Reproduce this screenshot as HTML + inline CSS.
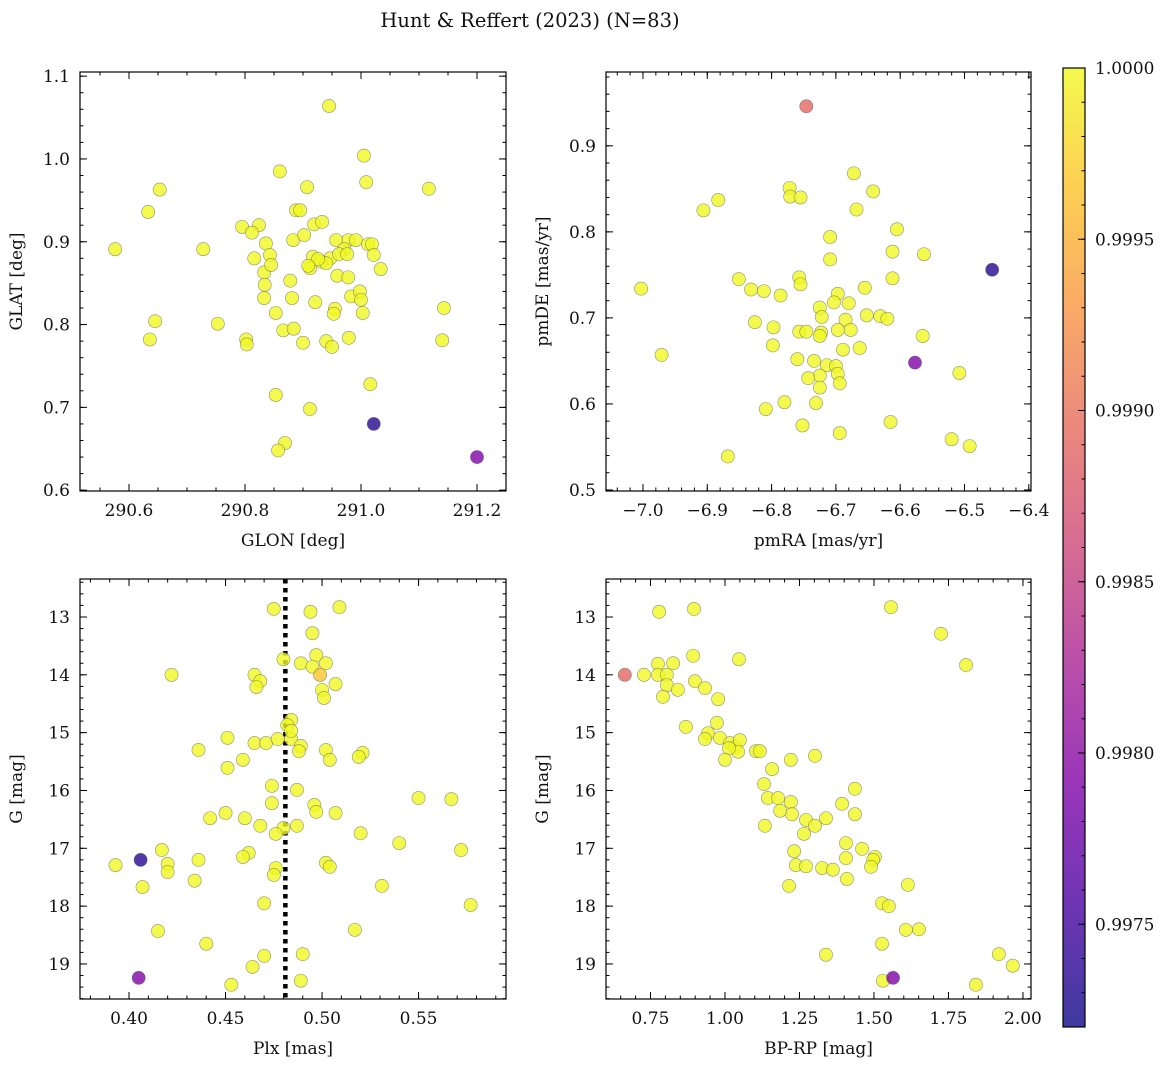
<!DOCTYPE html>
<html><head><meta charset="utf-8"><style>
body{margin:0;background:#fff}
svg text{font-family:"DejaVu Serif","Liberation Serif",serif;fill:#111}
</style></head><body>
<svg id="fig" width="1173" height="1067" viewBox="0 0 1173 1067" xmlns="http://www.w3.org/2000/svg">
<defs>
<linearGradient id="cbg" x1="0" y1="1" x2="0" y2="0">
<stop offset="0" stop-color="#0d0887"/><stop offset="0.13" stop-color="#4c02a1"/><stop offset="0.25" stop-color="#7e03a8"/><stop offset="0.38" stop-color="#a92395"/><stop offset="0.5" stop-color="#cc4778"/><stop offset="0.63" stop-color="#e66c5c"/><stop offset="0.75" stop-color="#f89540"/><stop offset="0.88" stop-color="#fdc527"/><stop offset="1" stop-color="#f0f921"/>
</linearGradient>
</defs>
<text x="530" y="27" font-size="19.5" text-anchor="middle">Hunt &amp; Reffert (2023) (N=83)</text>
</svg>
<script>
// Panel 1: GLON / GLAT
const p1Lon=[290.945,291.005,290.653,291.009,290.633,291.117,290.576,290.728,290.795,290.824,290.812,290.860,290.907,290.888,290.895,290.919,290.933,290.836,290.883,290.816,290.902,290.978,290.957,290.991,291.012,291.019,290.971,290.917,290.947,290.912,290.931,290.940,290.962,290.976,290.926,291.022,291.034,290.843,290.833,290.845,290.878,290.909,290.959,290.978,290.833,290.881,290.921,290.983,290.998,291.000,290.955,291.003,290.953,290.853,290.645,290.753,291.143,290.636,290.802,290.866,290.884,290.900,290.940,290.950,290.979,290.803,291.140,291.016,290.853,290.912,290.869,290.857,290.834,291.022,291.200];
const p1Lat=[1.064,1.004,0.963,0.972,0.936,0.964,0.891,0.891,0.918,0.920,0.911,0.985,0.966,0.938,0.938,0.921,0.924,0.898,0.902,0.880,0.908,0.902,0.902,0.902,0.897,0.897,0.891,0.882,0.880,0.868,0.876,0.874,0.885,0.885,0.879,0.884,0.867,0.884,0.863,0.872,0.853,0.871,0.859,0.857,0.832,0.832,0.827,0.834,0.840,0.830,0.819,0.814,0.813,0.814,0.804,0.801,0.820,0.782,0.782,0.793,0.795,0.778,0.780,0.773,0.784,0.776,0.781,0.728,0.715,0.698,0.657,0.648,0.848,0.680,0.640];
const p1Prob=[1,1,1,1,1,1,1,1,1,1,1,1,1,1,1,1,1,1,1,1,1,1,1,1,1,1,1,1,1,1,1,1,1,1,1,1,1,1,1,1,1,1,1,1,1,1,1,1,1,1,1,1,1,1,1,1,1,1,1,1,1,1,1,1,1,1,1,1,1,1,1,1,1,0.99733,0.9979];
// Panel 2: pmRA / pmDE
const p2Ra=[-7.003,-6.906,-6.883,-6.971,-6.772,-6.771,-6.755,-6.672,-6.642,-6.668,-6.605,-6.709,-6.612,-6.563,-6.709,-6.851,-6.757,-6.755,-6.832,-6.812,-6.786,-6.612,-6.655,-6.697,-6.680,-6.703,-6.725,-6.722,-6.685,-6.652,-6.631,-6.620,-6.826,-6.797,-6.757,-6.746,-6.723,-6.697,-6.677,-6.725,-6.565,-6.798,-6.663,-6.689,-6.760,-6.734,-6.714,-6.700,-6.725,-6.743,-6.697,-6.694,-6.508,-6.809,-6.780,-6.731,-6.725,-6.615,-6.752,-6.694,-6.520,-6.492,-6.868,-6.746,-6.457,-6.577];
const p2De=[0.734,0.825,0.837,0.657,0.851,0.841,0.840,0.868,0.847,0.826,0.803,0.794,0.777,0.774,0.768,0.745,0.747,0.739,0.733,0.731,0.726,0.746,0.735,0.728,0.717,0.718,0.712,0.701,0.698,0.703,0.702,0.699,0.695,0.689,0.684,0.684,0.683,0.686,0.686,0.679,0.679,0.668,0.665,0.663,0.652,0.650,0.645,0.644,0.633,0.630,0.635,0.624,0.636,0.594,0.602,0.601,0.619,0.579,0.575,0.566,0.559,0.551,0.539,0.946,0.756,0.648];
const p2Prob=[1,1,1,1,1,1,1,1,1,1,1,1,1,1,1,1,1,1,1,1,1,1,1,1,1,1,1,1,1,1,1,1,1,1,1,1,1,1,1,1,1,1,1,1,1,1,1,1,1,1,1,1,1,1,1,1,1,1,1,1,1,1,1,0.9989,0.99733,0.9979];
// Panel 3: Plx / G
const p3Plx=[0.475,0.509,0.494,0.495,0.497,0.480,0.489,0.502,0.495,0.422,0.465,0.468,0.466,0.507,0.500,0.501,0.436,0.451,0.465,0.471,0.477,0.484,0.489,0.488,0.502,0.521,0.519,0.504,0.459,0.451,0.484,0.482,0.484,0.474,0.487,0.550,0.567,0.474,0.496,0.497,0.507,0.450,0.442,0.460,0.468,0.480,0.487,0.520,0.476,0.540,0.417,0.462,0.459,0.572,0.420,0.436,0.502,0.504,0.393,0.420,0.476,0.475,0.434,0.407,0.531,0.470,0.577,0.415,0.517,0.440,0.470,0.490,0.464,0.489,0.453,0.499,0.406,0.405];
const p3G=[12.86,12.83,12.91,13.28,13.66,13.73,13.80,13.80,13.86,14.00,14.00,14.11,14.21,14.16,14.26,14.40,15.30,15.09,15.18,15.18,15.11,15.11,15.23,15.32,15.30,15.35,15.42,15.47,15.47,15.61,14.78,14.87,14.97,15.92,15.99,16.13,16.15,16.22,16.25,16.37,16.39,16.39,16.48,16.48,16.61,16.65,16.61,16.74,16.75,16.91,17.03,17.08,17.15,17.03,17.27,17.20,17.25,17.32,17.29,17.41,17.34,17.46,17.56,17.67,17.65,17.95,17.98,18.43,18.41,18.65,18.86,18.83,19.05,19.29,19.36,14.00,17.20,19.24];
const p3Prob=[1,1,1,1,1,1,1,1,1,1,1,1,1,1,1,1,1,1,1,1,1,1,1,1,1,1,1,1,1,1,1,1,1,1,1,1,1,1,1,1,1,1,1,1,1,1,1,1,1,1,1,1,1,1,1,1,1,1,1,1,1,1,1,1,1,1,1,1,1,1,1,1,1,1,1,0.99965,0.99733,0.9979];
// Panel 4: BP-RP / G
const p4Col=[0.779,0.896,1.557,1.725,1.809,0.893,1.047,0.775,0.826,0.728,0.775,0.805,0.899,0.805,0.933,0.842,0.792,0.977,0.869,0.973,0.943,0.983,0.933,1.017,1.034,1.050,1.044,1.013,1.000,1.104,1.117,1.221,1.302,1.158,1.131,1.436,1.144,1.178,1.221,1.393,1.225,1.185,1.436,1.272,1.134,1.302,1.265,1.339,1.406,1.460,1.232,1.503,1.406,1.497,1.238,1.272,1.326,1.362,1.490,1.409,1.614,1.215,1.527,1.550,1.607,1.651,1.527,1.339,1.919,1.966,1.530,1.842,0.664,1.564];
const p4G=[12.91,12.86,12.83,13.29,13.83,13.67,13.73,13.81,13.80,14.00,14.00,14.00,14.11,14.18,14.23,14.26,14.38,14.42,14.90,14.83,15.01,15.09,15.11,15.18,15.25,15.13,15.33,15.27,15.47,15.32,15.32,15.47,15.40,15.63,15.89,15.97,16.13,16.13,16.20,16.23,16.41,16.35,16.41,16.51,16.61,16.61,16.75,16.48,16.91,17.01,17.05,17.15,17.17,17.20,17.29,17.31,17.34,17.37,17.32,17.53,17.63,17.65,17.95,18.00,18.41,18.40,18.65,18.84,18.83,19.03,19.29,19.36,14.00,19.24];
const p4Prob=[1,1,1,1,1,1,1,1,1,1,1,1,1,1,1,1,1,1,1,1,1,1,1,1,1,1,1,1,1,1,1,1,1,1,1,1,1,1,1,1,1,1,1,1,1,1,1,1,1,1,1,1,1,1,1,1,1,1,1,1,1,1,1,1,1,1,1,1,1,1,1,1,0.9989,0.9979];
const cbTicks=[0.9975,0.9980,0.9985,0.9990,0.9995,1.0000];
const plxLine=0.481;

const NS="http://www.w3.org/2000/svg";
const svg=document.getElementById('fig');
function mk(tag,attrs,parent){const e=document.createElementNS(NS,tag);for(const k in attrs)e.setAttribute(k,attrs[k]);(parent||svg).appendChild(e);return e;}
const vmin=0.99720,vmax=1.0;
const stops=[[13,8,135],[76,2,161],[126,3,168],[169,35,149],[204,71,120],[230,108,92],[248,149,64],[253,197,39],[240,249,33]];
function cmap(v){let t=Math.max(0,Math.min(1,(v-vmin)/(vmax-vmin)))*(stops.length-1);let i=Math.min(Math.floor(t),stops.length-2),f=t-i;const c=stops[i].map((a,k)=>Math.round(a+(stops[i+1][k]-a)*f));return `rgb(${c[0]},${c[1]},${c[2]})`;}
function fmt(v,d){return v.toFixed(d).replace('-','\u2212');}

function panel(o){
  const g=mk('g',{});
  
  
  const sx=v=>o.x0+(v-o.xmin)/(o.xmax-o.xmin)*(o.x1-o.x0);
  const sy=o.yinv?v=>o.y0+(v-o.ymin)/(o.ymax-o.ymin)*(o.y1-o.y0):v=>o.y1-(v-o.ymin)/(o.ymax-o.ymin)*(o.y1-o.y0);
  const clip='c'+o.name;
  const cp=mk('clipPath',{id:clip},g);mk('rect',{x:o.x0,y:o.y0,width:o.x1-o.x0,height:o.y1-o.y0},cp);
  if(o.vline!==undefined){const l=mk('line',{x1:sx(o.vline),x2:sx(o.vline),y1:o.y0,y2:o.y1,stroke:'#000','stroke-width':4.5,'stroke-dasharray':'4.5 4.5'},g);
    
    }
  const pg=mk('g',{'clip-path':`url(#${clip})`},g);
  for(let i=0;i<o.xs.length;i++){
    const c=mk('circle',{cx:sx(o.xs[i]),cy:sy(o.ys[i]),r:6.6,fill:cmap(o.ps[i]),'fill-opacity':0.8,stroke:'#666','stroke-opacity':0.7,'stroke-width':0.6},pg);
    
    
  }
  mk('rect',{x:o.x0,y:o.y0,width:o.x1-o.x0,height:o.y1-o.y0,fill:'none',stroke:'#000','stroke-width':1.2},g);
  for(let v=o.xmaj0;v<=o.xmax+1e-9;v+=o.xstep){
    const x=sx(v);if(x<o.x0-0.5||x>o.x1+0.5)continue;
    mk('line',{x1:x,x2:x,y1:o.y1,y2:o.y1-7,stroke:'#000'},g);mk('line',{x1:x,x2:x,y1:o.y0,y2:o.y0+7,stroke:'#000'},g);
    const t=mk('text',{x:x,y:o.y1+25,'font-size':17,'text-anchor':'middle'},g);t.textContent=fmt(v,o.xd);
    
    
  }
  const xm=o.xstep/o.xn;
  for(let v=o.xmaj0-o.xstep;v<=o.xmax;v+=xm){const x=sx(v);if(x<o.x0||x>o.x1)continue;
    mk('line',{x1:x,x2:x,y1:o.y1,y2:o.y1-3.5,stroke:'#000'},g);mk('line',{x1:x,x2:x,y1:o.y0,y2:o.y0+3.5,stroke:'#000'},g);}
  for(let v=o.ymaj0;v<=o.ymax+1e-9;v+=o.ystep){
    const y=sy(v);if(y<o.y0-0.5||y>o.y1+0.5)continue;
    mk('line',{x1:o.x0,x2:o.x0+7,y1:y,y2:y,stroke:'#000'},g);mk('line',{x1:o.x1,x2:o.x1-7,y1:y,y2:y,stroke:'#000'},g);
    const t=mk('text',{x:o.x0-10,y:y+6,'font-size':17,'text-anchor':'end'},g);t.textContent=fmt(v,o.yd);
    
    
  }
  const ym=o.ystep/o.yn;
  for(let v=o.ymaj0-o.ystep;v<=o.ymax;v+=ym){const y=sy(v);if(y<o.y0||y>o.y1)continue;
    mk('line',{x1:o.x0,x2:o.x0+3.5,y1:y,y2:y,stroke:'#000'},g);mk('line',{x1:o.x1,x2:o.x1-3.5,y1:y,y2:y,stroke:'#000'},g);}
  const xl=mk('text',{x:(o.x0+o.x1)/2,y:o.y1+55,'font-size':17,'text-anchor':'middle'},g);xl.textContent=o.xlab;
  
  
  const yx=o.x0-58,yc=(o.y0+o.y1)/2;
  const yl=mk('text',{x:yx,y:yc,'font-size':17,'text-anchor':'middle',transform:`rotate(-90 ${yx} ${yc})`},g);yl.textContent=o.ylab;
  
  
}
panel({name:'glon-glat-panel',x0:80,x1:506,y0:72,y1:491,xmin:290.5155,xmax:291.25,ymin:0.599,ymax:1.105,xmaj0:290.6,xstep:0.2,xn:4,xd:1,ymaj0:0.6,ystep:0.1,yn:5,yd:1,xs:p1Lon,ys:p1Lat,ps:p1Prob,xlab:'GLON [deg]',ylab:'GLAT [deg]'});
panel({name:'proper-motion-panel',x0:606,x1:1031,y0:72,y1:491,xmin:-7.0575,xmax:-6.3966,ymin:0.4988,ymax:0.9858,xmaj0:-7.0,xstep:0.1,xn:5,xd:1,ymaj0:0.5,ystep:0.1,yn:5,yd:1,xs:p2Ra,ys:p2De,ps:p2Prob,xlab:'pmRA [mas/yr]',ylab:'pmDE [mas/yr]'});
panel({name:'parallax-magnitude-panel',x0:80,x1:506,y0:579,y1:999,xmin:0.3746,xmax:0.5953,ymin:12.343,ymax:19.606,yinv:true,xmaj0:0.40,xstep:0.05,xn:5,xd:2,ymaj0:13,ystep:1,yn:5,yd:0,xs:p3Plx,ys:p3G,ps:p3Prob,xlab:'Plx [mas]',ylab:'G [mag]',vline:plxLine});
panel({name:'color-magnitude-panel',x0:606,x1:1031,y0:579,y1:999,xmin:0.6007,xmax:2.027,ymin:12.343,ymax:19.606,yinv:true,xmaj0:0.75,xstep:0.25,xn:5,xd:2,ymaj0:13,ystep:1,yn:5,yd:0,xs:p4Col,ys:p4G,ps:p4Prob,xlab:'BP-RP [mag]',ylab:'G [mag]'});

const cb=mk('g',{});


const cx0=1063,cx1=1085,cy0=68,cy1=1027;
mk('rect',{x:cx0,y:cy0,width:cx1-cx0,height:cy1-cy0,fill:'url(#cbg)','fill-opacity':0.8},cb);
mk('rect',{x:cx0,y:cy0,width:cx1-cx0,height:cy1-cy0,fill:'none',stroke:'#000','stroke-width':1.2},cb);
const cy=v=>cy1-(v-vmin)/(vmax-vmin)*(cy1-cy0);
for(let i=0;i<cbTicks.length;i++){const y=cy(cbTicks[i]);
  mk('line',{x1:cx1,x2:cx1-7,y1:y,y2:y,stroke:'#000'},cb);
  const t=mk('text',{x:cx1+10,y:y+6,'font-size':17},cb);t.textContent=cbTicks[i].toFixed(4);
  
  }
for(let v=0.9973;v<=1.00001;v+=0.0001){const y=cy(v);if(y<cy0+0.5||y>cy1)continue;mk('line',{x1:cx1,x2:cx1-3.5,y1:y,y2:y,stroke:'#000'},cb);}
</script>
</body></html>
